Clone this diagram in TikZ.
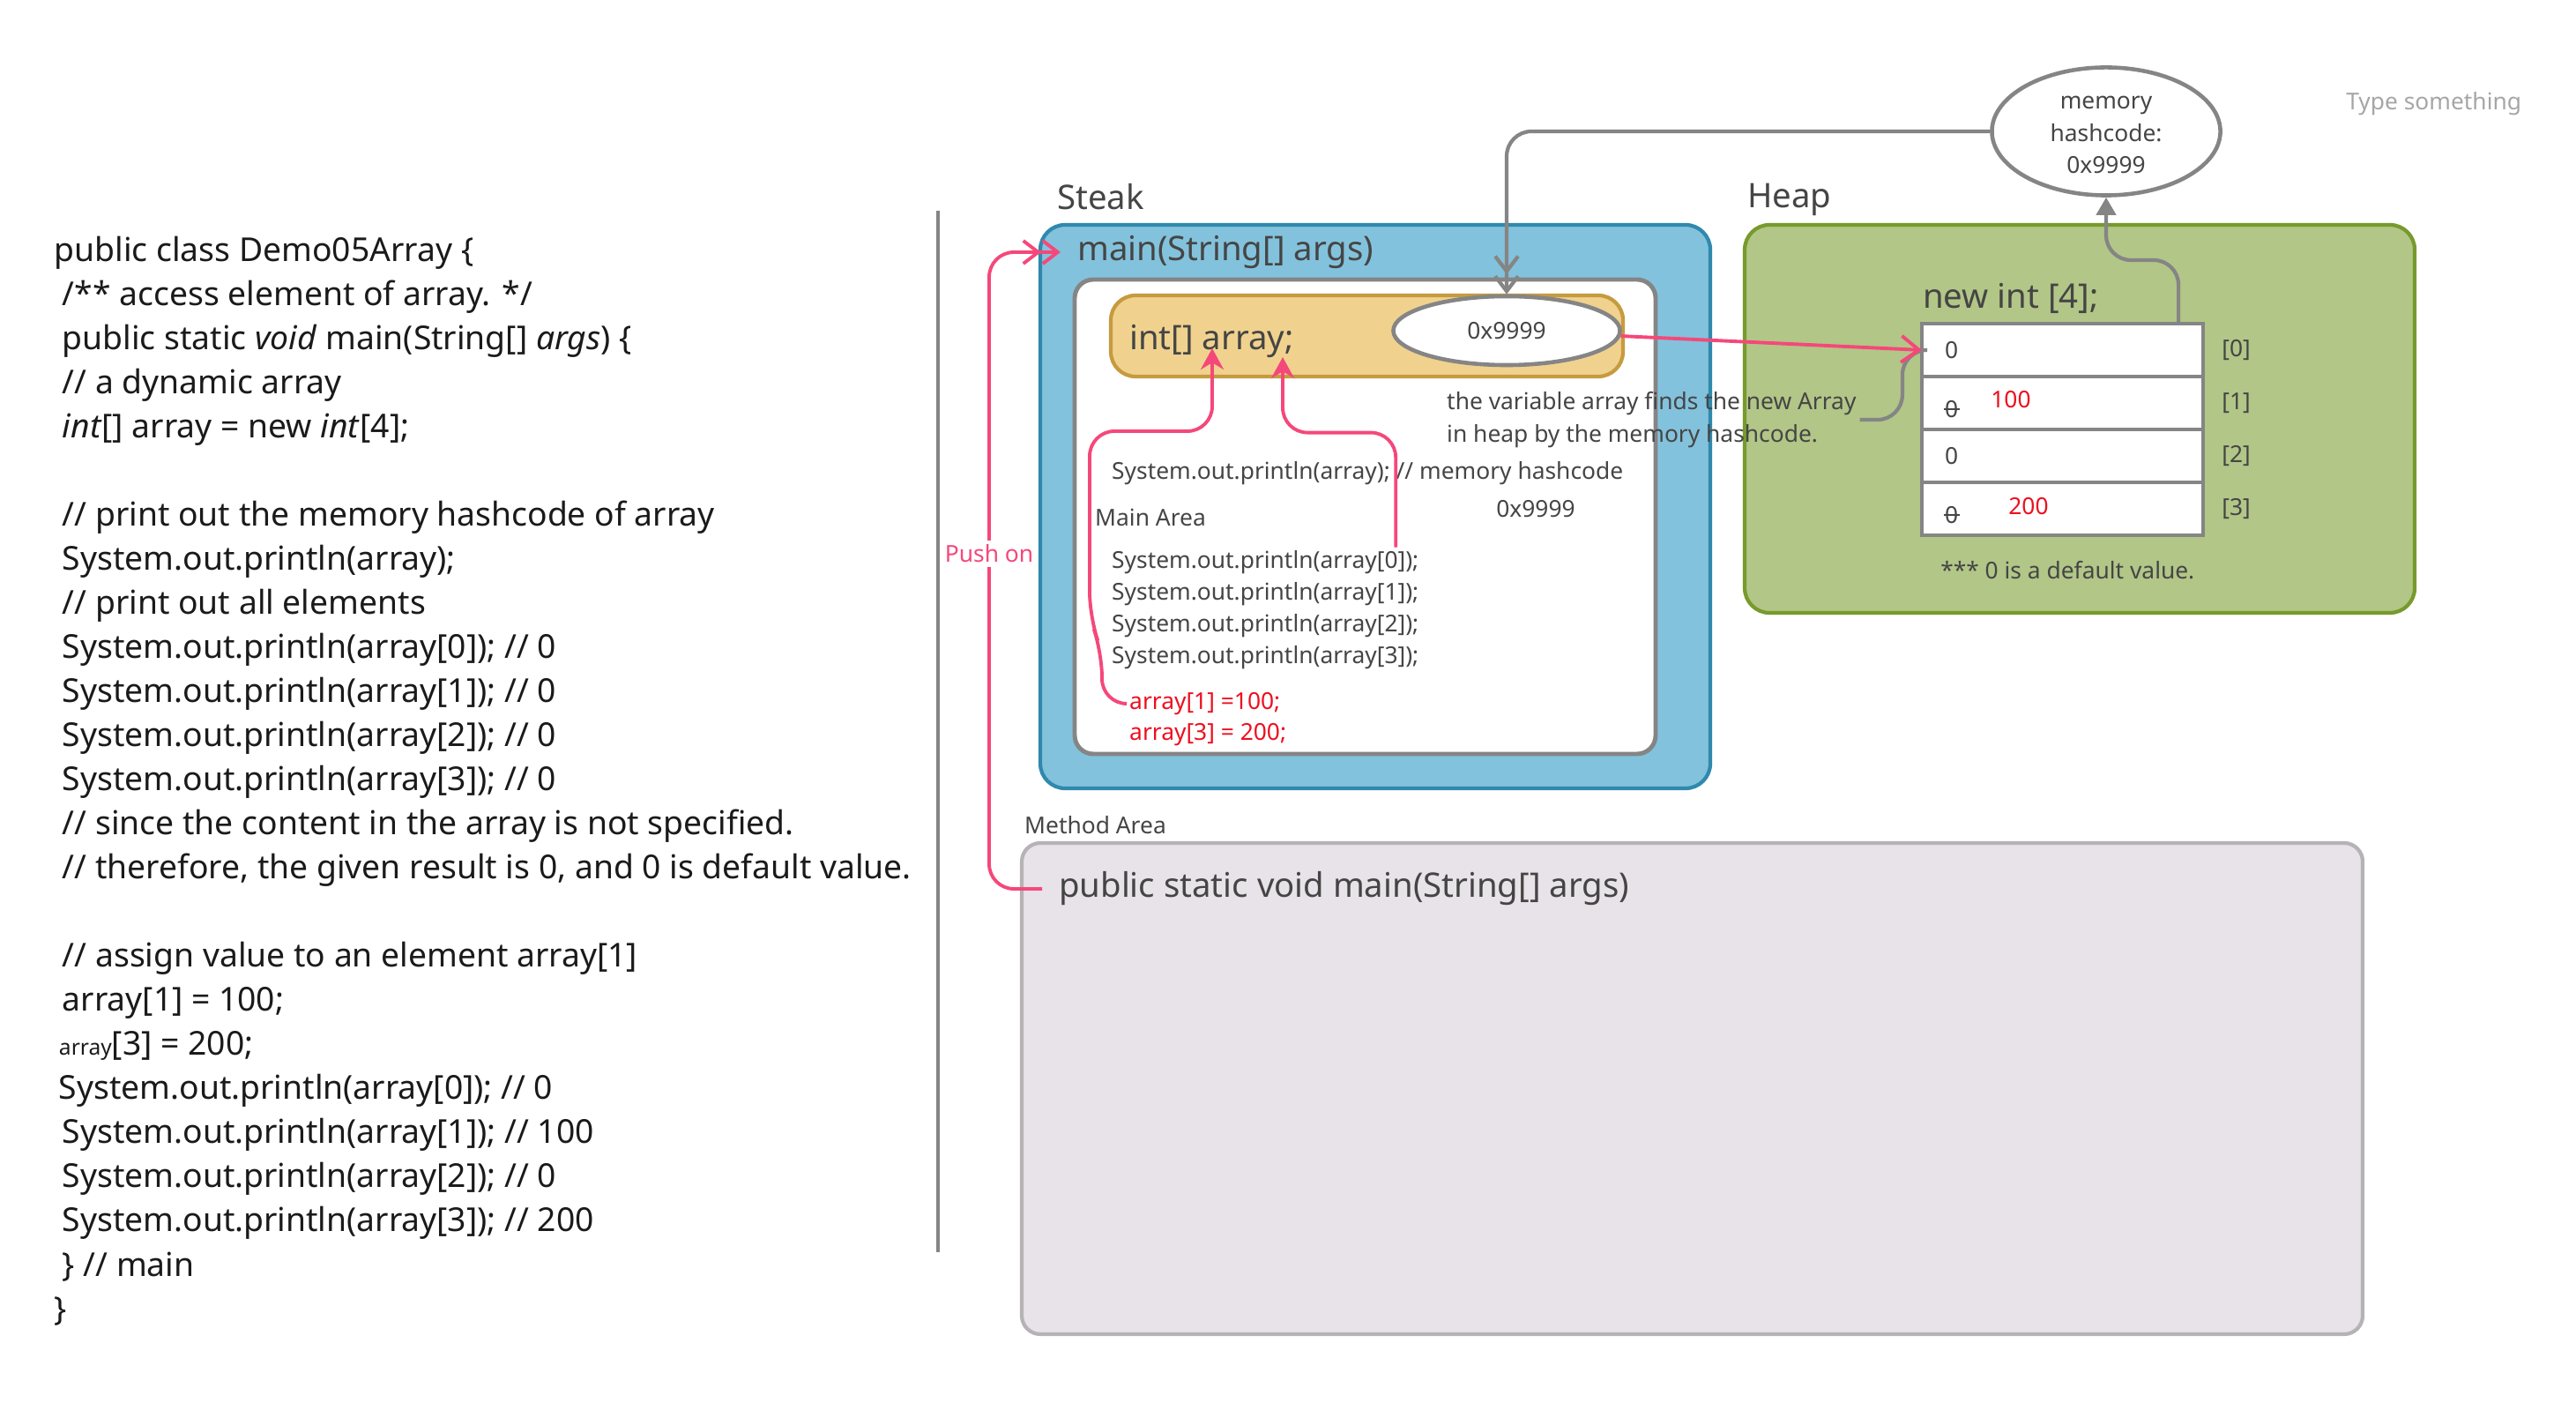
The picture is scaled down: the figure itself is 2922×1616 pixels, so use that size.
\documentclass[tikz,border=0pt]{standalone}
\usepackage{fontspec}
\setmainfont{Noto Sans}
\usepackage{tikz}
\usetikzlibrary{positioning, arrows.meta, shapes.geometric}

\definecolor{steakfill}{HTML}{83C2DC}
\definecolor{steakline}{HTML}{2F89AD}
\definecolor{heapfill}{HTML}{B2C687}
\definecolor{heapline}{HTML}{779A2C}
\definecolor{varfill}{HTML}{F0D28E}
\definecolor{varline}{HTML}{C69B40}
\definecolor{methfill}{HTML}{E8E3E8}
\definecolor{methline}{HTML}{B6B3B6}
\definecolor{pinkline}{HTML}{F5487A}
\definecolor{greyline}{HTML}{858585}
\definecolor{txt}{HTML}{454545}
\definecolor{codetxt}{HTML}{1A1A1A}
\definecolor{redtxt}{HTML}{EE0F1F}
\definecolor{hintgrey}{HTML}{A6A6A6}

\begin{document}
\begin{tikzpicture}[x=0.01cm, y=-0.01cm,
  big/.style={font=\fontsize{10.9}{13}\selectfont, text=txt, inner sep=1pt, anchor=west},
  small/.style={font=\fontsize{7.5}{10.4}\selectfont, text=txt, inner sep=1pt},
  cell/.style={draw=greyline, line width=1.1pt, fill=white, minimum width=3.19cm, minimum height=0.6cm, outer sep=0pt, inner sep=0pt},
  oval/.style={ellipse, draw=greyline, line width=1.3pt, fill=white, inner sep=0pt, font=\fontsize{7.5}{10.2}\selectfont, text=txt},
  pinkarrow/.style={draw=pinkline, line width=1.1pt, rounded corners=8pt, -{Stealth[length=0.24cm, width=0.26cm]}},
  chevrons/.style={-{Straight Barb[length=0.17cm, width=0.26cm] Straight Barb[length=0.17cm, width=0.26cm]}}]
\useasboundingbox (0,0) rectangle (2922,1616);

\node[anchor=north west, inner sep=0pt, align=left, font=\fontsize{10.6}{14.23}\selectfont, text=codetxt] (code) at (61,267) {public class Demo05Array \{\\
\hspace*{2.6pt}/** access element of array. */\\
\hspace*{2.6pt}public static \textit{void} main(String[] \textit{args}) \{\\
\hspace*{2.6pt}// a dynamic array\\
\hspace*{2.6pt}\textit{int}[] array = \textbf{new} \textit{int}[4];\\[14.23pt]
\hspace*{2.6pt}// print out the memory hashcode of array\\
\hspace*{2.6pt}System.out.println(array);\\
\hspace*{2.6pt}// print out all elements\\
\hspace*{2.6pt}System.out.println(array[0]); // 0\\
\hspace*{2.6pt}System.out.println(array[1]); // 0\\
\hspace*{2.6pt}System.out.println(array[2]); // 0\\
\hspace*{2.6pt}System.out.println(array[3]); // 0\\
\hspace*{2.6pt}// since the content in the array is not specified.\\
\hspace*{2.6pt}// therefore, the given result is 0, and 0 is default value.\\[14.23pt]
\hspace*{2.6pt}// assign value to an element array[1]\\
\hspace*{2.6pt}array[1] = 100;\\
\hspace*{1.5pt}{\fontsize{7}{9}\selectfont array}[3] = 200;\\
\hspace*{1.5pt}System.out.println(array[0]); // 0\\
\hspace*{2.6pt}System.out.println(array[1]); // 100\\
\hspace*{2.6pt}System.out.println(array[2]); // 0\\
\hspace*{2.6pt}System.out.println(array[3]); // 200\\
\hspace*{2.6pt}\} // main\\
\}};

\draw[greyline, line width=1.2pt] (1064,239) -- (1064,1420);

\draw[fill=steakfill, draw=steakline, line width=1.2pt, rounded corners=8pt] (1180,255) rectangle (1940,894);
\draw[fill=white, draw=greyline, line width=1.4pt, rounded corners=6pt] (1219,317) rectangle (1878,855);
\draw[fill=varfill, draw=varline, line width=1.2pt, rounded corners=8pt] (1260,335) rectangle (1841,427);
\draw[fill=heapfill, draw=heapline, line width=1.2pt, rounded corners=8pt] (1979,255) rectangle (2739,695);
\draw[fill=methfill, draw=methline, line width=1.2pt, rounded corners=6pt] (1159,956) rectangle (2680,1513);

\node[big] (steak) at (1195,223) {Steak};
\node[big] (heap) at (1978,226) {Heap};
\node[big] (mainlbl) at (1218,286) {main(String[] args)};
\node[big] (intvar) at (1277,387) {int[] array;};
\node[oval, minimum width=2.57cm, minimum height=0.78cm] (hash) at (1709,375) {0x9999};
\node[oval, minimum width=2.59cm, minimum height=1.45cm] (mem) at (2389,149) {};
\node[align=center, inner sep=0pt, font=\fontsize{7.5}{10.5}\selectfont, text=txt] (memtxt) at (2389,153) {memory\\hashcode:\\0x9999};
\node[small, anchor=west, text=hintgrey] (hint) at (2657,118) {Type something};

\node[small, anchor=west] (prn) at (1257,537) {System.out.println(array); // memory hashcode};
\node[small] (hexval) at (1742,577) {0x9999};
\node[small, anchor=west] (mainarea) at (1238,587) {Main Area};
\foreach \i/\yy in {0/638,1/674,2/710,3/746}
  \node[small, anchor=west] (p\i) at (1257,\yy) {System.out.println(array[\i]);};
\node[small, anchor=west, text=redtxt] (asg1) at (1277,798) {array[1] =100;};
\node[small, anchor=west, text=redtxt] (asg3) at (1277,833) {array[3] = 200;};
\node[small, anchor=west, align=left] (note) at (1637,476) {the variable array finds the new Array\\in heap by the memory hashcode.};

\node[small, anchor=west] (methlbl) at (1158,936) {Method Area};
\node[big] (mthd) at (1197,1008) {public static void main(String[] args)};

\node[big] (newint) at (2177,338) {new int [4];};
\foreach \i in {0,...,3} {
  \node[cell] (c\i) at (2339.5,{397+60*\i}) {};
  \node[small, right=0.17cm of c\i] (idx\i) {[\i]};
}
\foreach \i in {0,2}
  \node[small, anchor=west] (z\i) at ([xshift=0.22cm]c\i.west) {0};
\foreach \i in {1,3} {
  \node[small, anchor=west] (z\i) at ([xshift=0.22cm, yshift=-0.07cm]c\i.west) {0};
  \draw[txt, line width=0.5pt] ([xshift=0.8pt]z\i.west) -- ([xshift=-0.8pt]z\i.east);
}
\node[small, text=redtxt] (v1) at (2281,453) {100};
\node[small, text=redtxt] (v3) at (2301,574) {200};
\node[small, anchor=west] (dflt) at (2197,647) {*** 0 is a default value.};

\coordinate (pushx) at (1122,628);
\coordinate (tipA) at (1375,395);
\coordinate (tipB) at (1455,405);

\draw[greyline, line width=1.2pt, rounded corners=8pt, chevrons] (mem.west) -| (hash.north);
\draw[greyline, line width=1.2pt, rounded corners=8pt, -{Triangle[length=0.2cm, width=0.22cm]}] ([xshift=-0.28cm]c0.north east) -- ++(0,-72) -| (mem.south);
\draw[greyline, line width=1.2pt, rounded corners=8pt] (note.east) -| ([xshift=-0.22cm]c0.west) -- (c0.west);
\path[color=pinkline, line width=1.1pt, -{Straight Barb[length=0.2cm, width=0.3cm]}] (hash) edge (c0.west);

\draw[pinkarrow] (asg1.west) -- (1250,798) -- (1250,740) -- (1236,700) -- (1236,489) -| (tipA);
\draw[pinkarrow] ([xshift=3.26cm]p0.north west) -- ++(0,-130) -| (tipB);

\draw[pinkline, line width=1.1pt, rounded corners=8pt, chevrons, shorten <=0.15cm, shorten >=0.15cm] (mthd.west) -| (pushx) |- (mainlbl.west);
\node[small, text=pinkline, fill=white, inner sep=1.5pt] (push) at (pushx) {Push on};
\end{tikzpicture}
\end{document}
